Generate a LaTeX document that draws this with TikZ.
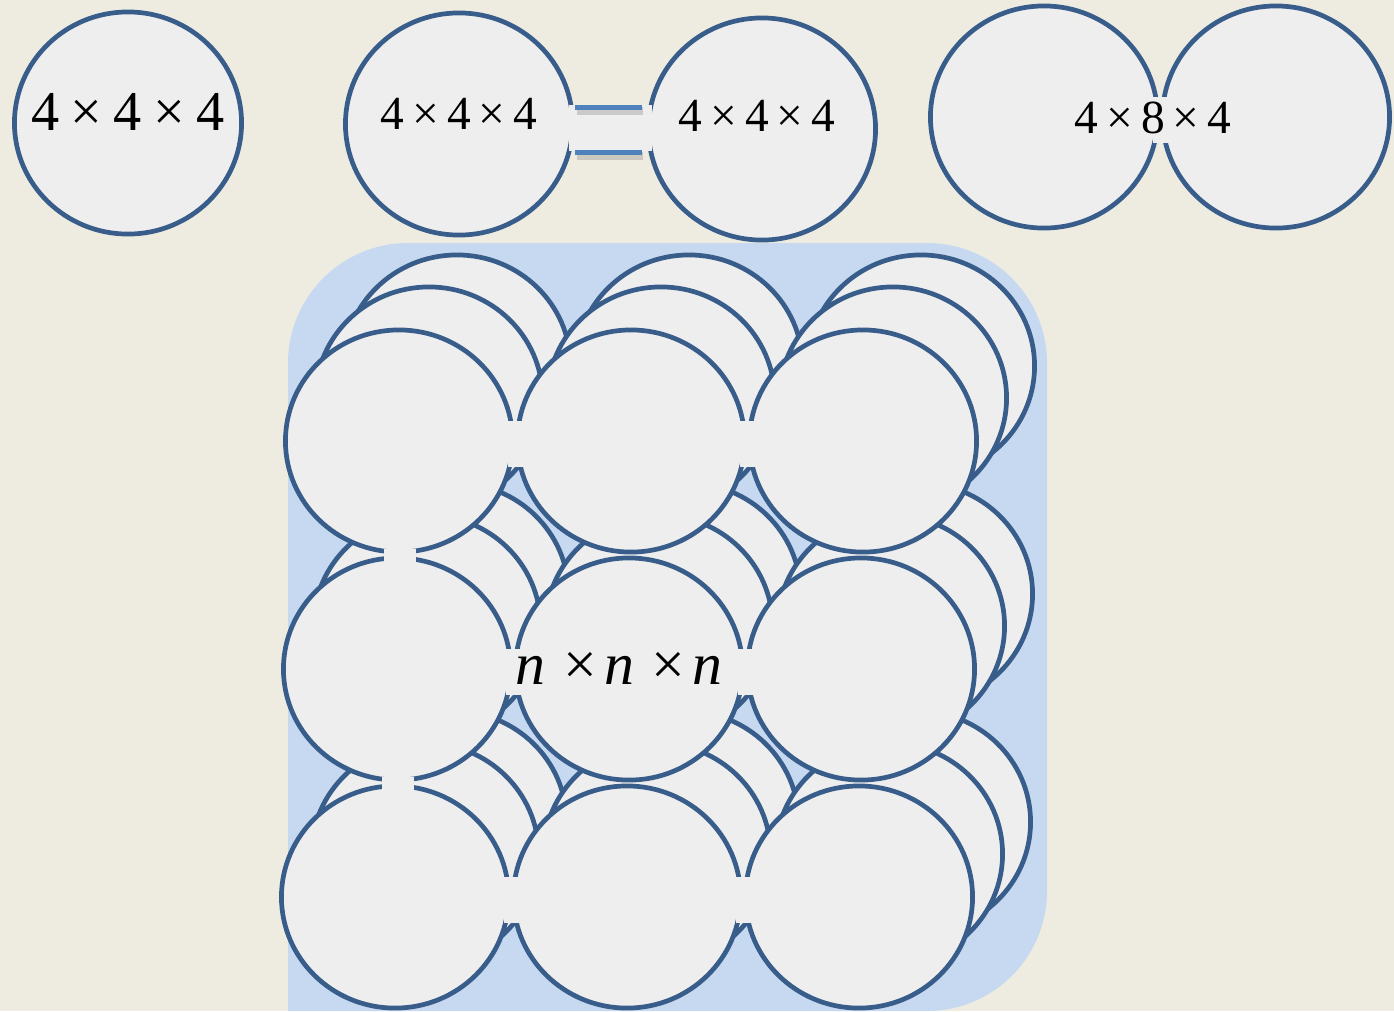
\documentclass[tikz,border=0pt]{standalone}
\usepackage{fontspec}
\setmainfont{Liberation Serif}
\usetikzlibrary{shapes.geometric,calc,positioning}
\definecolor{pagebg}{HTML}{EEECE1}
\definecolor{ballfill}{HTML}{EEEEEE}
\definecolor{ballline}{HTML}{385D8A}
\definecolor{boxblue}{HTML}{C6D9F1}
\definecolor{linkblue}{HTML}{4F81BD}
\tikzset{
  ball/.style={ellipse,draw=ballline,fill=ballfill,line width=0.047cm,inner sep=0pt,minimum width=2.27cm,minimum height=2.22cm},
  seam/.style={fill=ballfill,inner sep=0pt,minimum width=0.15cm,minimum height=0.46cm,yshift=-0.03cm},
  seamflat/.style={fill=ballfill,inner sep=0pt,minimum width=0.32cm,minimum height=0.13cm},
  link/.style={draw=linkblue,line width=0.05cm},
  linkshadow/.style={draw=black,opacity=0.15,line width=0.08cm},
  dimtext/.style={inner sep=0pt,font={\fontsize{#1}{#1}\selectfont}}
}

\begin{document}
\begin{tikzpicture}[x=0.01cm,y=-0.01cm]
\useasboundingbox (0,0) rectangle (1394,1011);
\fill[pagebg] (0,0) rectangle (1394,1011);
\fill[boxblue,rounded corners=1.2cm] (288,1011) -- (288,243) -- (1047,243) -- (1047,1011) -- (288,1011);

\node[ball] (single) at (128,123) {};
\node[ball] (pairl) at (459,124) {};
\node[ball] (pairr) at (762,129) {};
\node[ball] (twinl) at (1044,117) {};
\node[ball] (twinr) at (1276,117) {};
\node[seam] (twinseam) at ($(twinl)!0.5!(twinr)$) {};

\fill[ballfill] ($(pairl.east |- 0,105)+(-6,0)$) rectangle ($(pairr.west |- 0,151)+(6,0)$);
\draw[linkshadow] ($(pairl.east |- 0,111)+(2,0)$) -- ($(pairr.west |- 0,111)+(-3,0)$);
\draw[linkshadow] ($(pairl.east |- 0,156)+(2,0)$) -- ($(pairr.west |- 0,156)+(-3,0)$);
\draw[link] (pairl.east |- 0,107) -- ($(pairr.west |- 0,107)+(-4,0)$);
\draw[link] (pairl.east |- 0,152) -- ($(pairr.west |- 0,152)+(-4,0)$);

\foreach \l/\dx/\dy in {0/58/-75,1/30/-43,2/0/0}
  \foreach \r in {0,1,2}
    \foreach \c in {0,1,2}
      \node[ball] (b\l-\r-\c) at ({399+232*\c-2*\r+\dx},{441+228*\r+\dy}) {};
\foreach \r in {0,1,2}
  \foreach \c/\d in {0/1,1/2}
    \node[seam] (s\r-\c) at ($(b2-\r-\c)!0.5!(b2-\r-\d)$) {};
\foreach \r/\s in {0/1,1/2}
  \node[seamflat] (v\r) at ($(b2-\r-0)!0.5!(b2-\s-0)+(2,0)$) {};

\node[dimtext=16pt] (dim1) at (128,112) {4\hspace{0.2em}×\hspace{0.2em}4\hspace{0.2em}×\hspace{0.2em}4};
\node[dimtext=13.5pt] (dim2) at (459,114) {4\,×\,4\,×\,4};
\node[dimtext=13.5pt] (dim3) at (757,116) {4\,×\,4\,×\,4};
\node[dimtext=13.5pt] (dim4) at (1153,118) {4\,×\,8\,×\,4};
\node[dimtext=17pt] (dimn) at (619,668) {\textit{n}\hspace{0.3em}×\hspace{0.12em}\textit{n}\hspace{0.3em}×\hspace{0.12em}\textit{n}};
\end{tikzpicture}
\end{document}
